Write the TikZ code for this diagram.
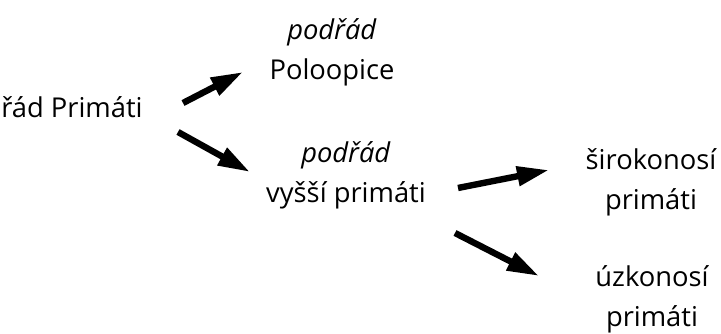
\documentclass[tikz,border=0pt]{standalone}
\usepackage{fontspec}
\setmainfont{Open Sans}
\usetikzlibrary{arrows.meta}

\begin{document}
\begin{tikzpicture}[x=0.75pt,y=-0.75pt,
    taxon/.style={align=center,inner sep=0pt,anchor=base,font=\fontsize{20.5}{30}\selectfont},
    branch/.style={line width=4.8pt,-{Triangle[length=24pt,width=14pt]}}]
    \useasboundingbox (0,0) rectangle (721,334);
    \node[taxon,anchor=base west] (rad) at (1,118) {řád Primáti};
    \node[taxon] (poloopice) at (332,80) {\textit{podřád}\\Poloopice};
    \node[taxon] (vyssi) at (346,203) {\textit{podřád}\\vyšší primáti};
    \node[taxon] (siroko) at (651,210) {širokonosí\\primáti};
    \node[taxon] (uzko) at (652,327) {úzkonosí\\primáti};
    % arrow ends
    \coordinate (a1) at (183,103);
    \coordinate (b1) at (243,72);
    \coordinate (a2) at (178,132);
    \coordinate (b2) at (250,172);
    \coordinate (a3) at (458,188);
    \coordinate (b3) at (549,170);
    \coordinate (a4) at (455,233);
    \coordinate (b4) at (539,276);
    \draw[branch] (a1) -- (b1);
    \draw[branch] (a2) -- (b2);
    \draw[branch] (a3) -- (b3);
    \draw[branch] (a4) -- (b4);
\end{tikzpicture}
\end{document}
